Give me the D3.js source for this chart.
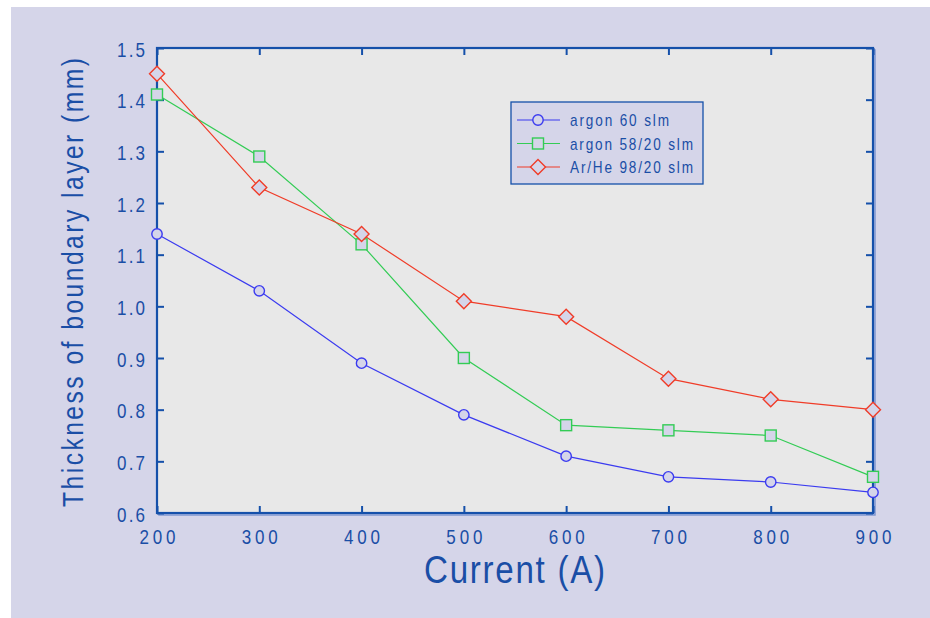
<!DOCTYPE html>
<html><head><meta charset="utf-8">
<script src="https://cdn.jsdelivr.net/npm/d3@7/dist/d3.min.js"></script>
<style>body{margin:0;background:#fff}svg{display:block}</style>
</head><body>
<script>
const currents = [200, 300, 400, 500, 600, 700, 800, 900];
const argon60 = [1.14, 1.03, 0.89, 0.79, 0.71, 0.67, 0.66, 0.64];
const argon5820 = [1.41, 1.29, 1.12, 0.90, 0.77, 0.76, 0.75, 0.67];
const arhe9820 = [1.45, 1.23, 1.14, 1.01, 0.98, 0.86, 0.82, 0.80];
const seriesNames = ["argon 60 slm", "argon 58/20 slm", "Ar/He 98/20 slm"];
const xTicks = [200, 300, 400, 500, 600, 700, 800, 900];
const yTicks = [0.6, 0.7, 0.8, 0.9, 1.0, 1.1, 1.2, 1.3, 1.4, 1.5];

const W = 930, H = 618;
const blue = "#1550aa", txt = "#1a4ea6", lav = "#d5d5e9";
const font = "'Liberation Sans', Arial, sans-serif";
const SX = 0.85; // horizontal squeeze to mimic a narrow face
const colors = ["#3b3bf0", "#33cc55", "#f03c28"];
const shapes = ["circle", "square", "diamond"];
const series = [argon60, argon5820, arhe9820];

const svg = d3.select("body").append("svg").attr("width", W).attr("height", H);
svg.append("rect").attr("x", 11).attr("y", 7).attr("width", W - 11).attr("height", H - 7).attr("fill", lav);

const L = 157, R = 873, T = 48, B = 513;
const x = d3.scaleLinear().domain([200, 900]).range([L, R]);
const y = d3.scaleLinear().domain([0.6, 1.5]).range([B, T]);

svg.append("rect").attr("x", L + 2).attr("y", T + 2).attr("width", R - L).attr("height", B - T)
  .attr("fill", "none").attr("stroke", "#7f97d0").attr("stroke-width", 1.5);
svg.append("rect").attr("x", L).attr("y", T).attr("width", R - L).attr("height", B - T).attr("fill", "#e8e8e8");

const tl = 7;
const axB = svg.append("g").attr("transform", `translate(0,${B})`)
  .call(d3.axisBottom(x).tickValues(xTicks).tickSizeInner(-tl).tickSizeOuter(0).tickFormat(""));
const axT = svg.append("g").attr("transform", `translate(0,${T})`)
  .call(d3.axisTop(x).tickValues(xTicks).tickSizeInner(-tl).tickSizeOuter(0).tickFormat(""));
const axL = svg.append("g").attr("transform", `translate(${L},0)`)
  .call(d3.axisLeft(y).tickValues(yTicks).tickSizeInner(-tl).tickSizeOuter(0).tickFormat(""));
const axR = svg.append("g").attr("transform", `translate(${R},0)`)
  .call(d3.axisRight(y).tickValues(yTicks).tickSizeInner(-tl).tickSizeOuter(0).tickFormat(""));
[axB, axT, axL, axR].forEach(a => {
  a.select(".domain").remove();
  a.selectAll(".tick line").attr("stroke", blue).attr("stroke-width", 2);
  a.selectAll("text").remove();
});
svg.append("rect").attr("x", L).attr("y", T).attr("width", R - L).attr("height", B - T)
  .attr("fill", "none").attr("stroke", blue).attr("stroke-width", 2.2);

// tick labels
const fx = d3.format("d"), fy = d3.format(".1f");
svg.append("g").selectAll("text").data(xTicks).join("text")
  .attr("transform", d => `translate(${x(d) + 0.5},544) scale(${SX},1)`)
  .attr("text-anchor", "middle").attr("fill", txt).attr("font-family", font).attr("font-size", 20)
  .attr("textLength", 36 / SX).attr("lengthAdjust", "spacing").text(fx);
svg.append("g").selectAll("text").data(yTicks).join("text")
  .attr("transform", d => `translate(145,${y(d) + 8.5}) scale(${SX},1)`)
  .attr("text-anchor", "end").attr("fill", txt).attr("font-family", font).attr("font-size", 20)
  .attr("textLength", 28 / SX).attr("lengthAdjust", "spacing").text(fy);

function marker(g, shape, cx, cy, color) {
  let m;
  if (shape === "circle") m = g.append("circle").attr("cx", cx).attr("cy", cy).attr("r", 5.2);
  else if (shape === "square") m = g.append("rect").attr("x", cx - 5.5).attr("y", cy - 5.5).attr("width", 11).attr("height", 11);
  else m = g.append("path").attr("d", `M${cx},${cy - 7.5}L${cx + 7.5},${cy}L${cx},${cy + 7.5}L${cx - 7.5},${cy}Z`);
  m.attr("fill", lav).attr("stroke", color).attr("stroke-width", 1.4);
}

const line = d3.line().x((d, i) => x(currents[i])).y(d => y(d));
series.forEach((s, k) => {
  svg.append("path").datum(s).attr("d", line).attr("fill", "none").attr("stroke", colors[k]).attr("stroke-width", 1.2);
});
series.forEach((s, k) => {
  const g = svg.append("g");
  s.forEach((v, i) => marker(g, shapes[k], x(currents[i]), y(v), colors[k]));
});

// legend
const lg = svg.append("g");
lg.append("rect").attr("x", 511).attr("y", 102).attr("width", 192).attr("height", 82)
  .attr("fill", lav).attr("stroke", blue).attr("stroke-width", 1.3);
const legendWidths = [99, 123, 123];
seriesNames.forEach((n, k) => {
  const cy = 120 + k * 23.5;
  lg.append("line").attr("x1", 517).attr("x2", 560).attr("y1", cy).attr("y2", cy).attr("stroke", colors[k]).attr("stroke-width", 1.2);
  marker(lg.append("g"), shapes[k], 538, cy, colors[k]);
  lg.append("text").attr("transform", `translate(570,${cy + 6}) scale(${SX},1)`).text(n).attr("fill", txt)
    .attr("font-family", font).attr("font-size", 16)
    .attr("textLength", legendWidths[k] / SX).attr("lengthAdjust", "spacing");
});

// axis titles
svg.append("text").attr("transform", `translate(424,583) scale(${SX},1)`).text("Current (A)").attr("fill", txt)
  .attr("font-family", font).attr("font-size", 39)
  .attr("textLength", 181 / SX).attr("lengthAdjust", "spacing");
svg.append("text").attr("transform", `translate(83,507) rotate(-90) scale(${SX},1)`).text("Thickness of boundary layer (mm)")
  .attr("fill", txt).attr("font-family", font).attr("font-size", 29)
  .attr("textLength", 449 / SX).attr("lengthAdjust", "spacing");
</script>
</body></html>
